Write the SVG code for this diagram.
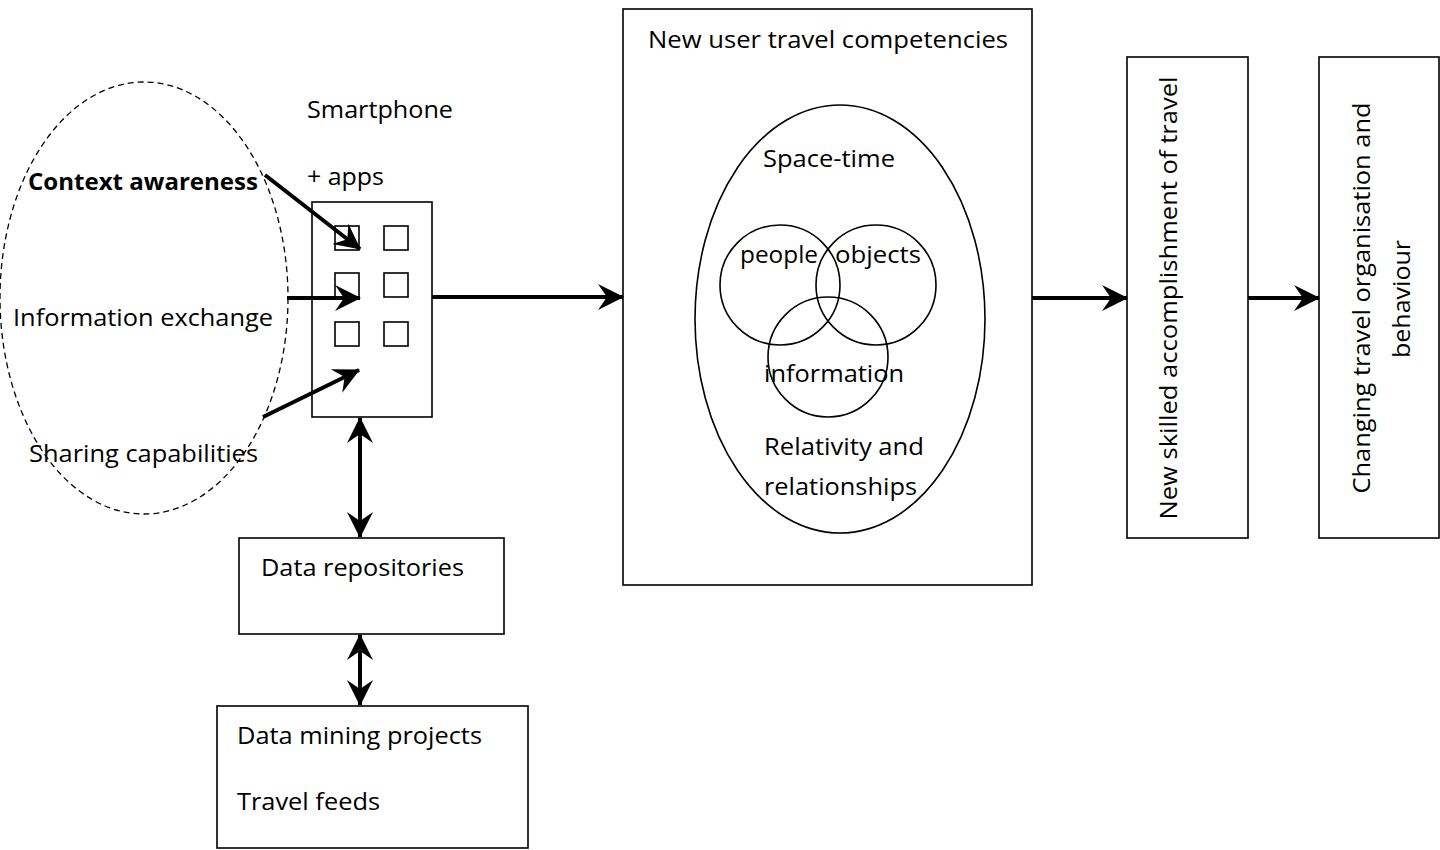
<svg xmlns="http://www.w3.org/2000/svg" width="1440" height="850" viewBox="0 0 1440 850">
<style>
  text { font-family: "Open Sans", "Liberation Sans", sans-serif; font-size: 23px; fill: #000; }
  .bold { font-weight: bold; }
  .box { fill: #fff; stroke: #000; stroke-width: 1.6; }
  .sq { fill: none; stroke: #000; stroke-width: 1.6; }
  .ring { fill: none; stroke: #000; stroke-width: 1.6; }
  .dash { fill: none; stroke: #000; stroke-width: 1.3; stroke-dasharray: 6 4; }
  .arrow { fill: none; stroke: #000; stroke-width: 4; marker-end: url(#ah); }
  .dbl { fill: none; stroke: #000; stroke-width: 4; marker-end: url(#ah); marker-start: url(#ah); }
</style>
<defs>
  <marker id="ah" markerUnits="userSpaceOnUse" markerWidth="28" markerHeight="30" refX="25" refY="14" orient="auto-start-reverse" viewBox="0 0 28 30">
    <path d="M0,1 L26,14 L0,27 L9,14 Z" fill="#000"/>
  </marker>
</defs>
<rect width="1440" height="850" fill="#fff"/>

<g id="features">
  <ellipse class="dash" cx="144" cy="298" rx="144" ry="216"/>
  <text class="bold" x="28" y="190" textLength="230" lengthAdjust="spacingAndGlyphs">Context awareness</text>
  <text x="13" y="326" textLength="260" lengthAdjust="spacingAndGlyphs">Information exchange</text>
  <text x="29" y="462" textLength="229" lengthAdjust="spacingAndGlyphs">Sharing capabilities</text>
</g>

<g id="smartphone">
  <text x="307" y="118" textLength="146" lengthAdjust="spacingAndGlyphs">Smartphone</text>
  <text x="307" y="185" textLength="77" lengthAdjust="spacingAndGlyphs">+ apps</text>
  <rect class="box" x="312" y="202" width="120" height="215"/>
  <rect class="sq" x="335" y="226" width="24" height="24"/>
  <rect class="sq" x="384" y="226" width="24" height="24"/>
  <rect class="sq" x="335" y="273" width="24" height="24"/>
  <rect class="sq" x="384" y="273" width="24" height="24"/>
  <rect class="sq" x="335" y="322" width="24" height="24"/>
  <rect class="sq" x="384" y="322" width="24" height="24"/>
</g>

<g id="data-repositories">
  <rect class="box" x="239" y="538" width="265" height="96"/>
  <text x="261" y="576" textLength="203" lengthAdjust="spacingAndGlyphs">Data repositories</text>
</g>

<g id="data-mining">
  <rect class="box" x="217" y="706" width="311" height="142"/>
  <text x="237" y="744" textLength="245" lengthAdjust="spacingAndGlyphs">Data mining projects</text>
  <text x="237" y="810" textLength="143" lengthAdjust="spacingAndGlyphs">Travel feeds</text>
</g>

<g id="competencies">
  <rect class="box" x="623" y="9" width="409" height="576"/>
  <text x="648" y="48" textLength="360" lengthAdjust="spacingAndGlyphs">New user travel competencies</text>
  <ellipse class="ring" cx="840" cy="319" rx="145" ry="214"/>
  <text x="763" y="167" textLength="132" lengthAdjust="spacingAndGlyphs">Space-time</text>
  <circle class="ring" cx="780" cy="285" r="60"/>
  <circle class="ring" cx="876" cy="285" r="60"/>
  <circle class="ring" cx="828" cy="357" r="60"/>
  <text x="740" y="263" textLength="78" lengthAdjust="spacingAndGlyphs">people</text>
  <text x="835" y="263" textLength="86" lengthAdjust="spacingAndGlyphs">objects</text>
  <text x="764" y="382" textLength="140" lengthAdjust="spacingAndGlyphs">information</text>
  <text x="764" y="455" textLength="160" lengthAdjust="spacingAndGlyphs">Relativity and</text>
  <text x="764" y="495" textLength="153" lengthAdjust="spacingAndGlyphs">relationships</text>
</g>

<g id="skilled-accomplishment">
  <rect class="box" x="1127" y="57" width="121" height="481"/>
  <text transform="translate(1177,298) rotate(-90)" text-anchor="middle" textLength="443" lengthAdjust="spacingAndGlyphs">New skilled accomplishment of travel</text>
</g>

<g id="changing-behaviour">
  <rect class="box" x="1319" y="57" width="120" height="481"/>
  <text transform="translate(1370,298) rotate(-90)" text-anchor="middle" textLength="391" lengthAdjust="spacingAndGlyphs">Changing travel organisation and</text>
  <text transform="translate(1410,299) rotate(-90)" text-anchor="middle" textLength="118" lengthAdjust="spacingAndGlyphs">behaviour</text>
</g>

<g id="connectors">
  <line class="arrow" x1="265" y1="175" x2="360" y2="249"/>
  <line class="arrow" x1="287" y1="298" x2="360" y2="298"/>
  <line class="arrow" x1="263" y1="417" x2="359" y2="370"/>
  <line class="arrow" x1="432" y1="297" x2="623" y2="297"/>
  <line class="arrow" x1="1032" y1="298" x2="1127" y2="298"/>
  <line class="arrow" x1="1248" y1="298" x2="1319" y2="298"/>
  <line class="dbl" x1="360" y1="418" x2="360" y2="537"/>
  <line class="dbl" x1="360" y1="635" x2="360" y2="705"/>
</g>
</svg>
